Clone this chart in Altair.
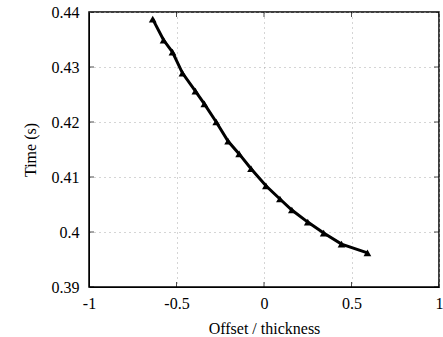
import altair as alt
import pandas as pd

offset = [-0.636, -0.574, -0.523, -0.466, -0.392, -0.341, -0.273, -0.205, -0.142,
          -0.074, 0.011, 0.091, 0.159, 0.250, 0.341, 0.443, 0.591]
time_s = [0.4387, 0.4349, 0.4327, 0.4289, 0.4256, 0.4233, 0.4200, 0.4165, 0.4142,
          0.4115, 0.4084, 0.4060, 0.4040, 0.4018, 0.3998, 0.3978, 0.3962]
x_ticks = [-1, -0.5, 0, 0.5, 1]
y_ticks = [0.39, 0.40, 0.41, 0.42, 0.43, 0.44]

df = pd.DataFrame({"x": offset, "y": time_s})
xs = alt.Scale(domain=[-1, 1], nice=False)
ys = alt.Scale(domain=[0.39, 0.44], nice=False, zero=False)
FONT = "Liberation Serif"

xaxis = alt.Axis(values=x_ticks, title="Offset / thickness", grid=True, gridDash=[1, 4],
                 gridColor="#aaa", gridWidth=1, tickSize=0, labelPadding=8,
                 labelFontSize=16, titleFontSize=16, titleFontWeight="normal",
                 labelFont=FONT, titleFont=FONT, labelColor="black", titleColor="black",
                 domainColor="black", titlePadding=9, labelFlush=False,
                 labelExpr="replace(format(datum.value, '~g'), '\u2212', '-')")
yaxis = alt.Axis(values=y_ticks, title="Time (s)", grid=True, gridDash=[1, 4],
                 gridColor="#aaa", gridWidth=1, tickSize=0, labelPadding=10,
                 labelFontSize=16, titleFontSize=16, titleFontWeight="normal",
                 labelFont=FONT, titleFont=FONT, labelColor="black", titleColor="black",
                 domainColor="black", titlePadding=13, labelFlush=False,
                 format="~g")

line = alt.Chart(df).mark_line(color="black", strokeWidth=3).encode(
    x=alt.X("x:Q", scale=xs, axis=xaxis),
    y=alt.Y("y:Q", scale=ys, axis=yaxis),
)
pts = alt.Chart(df).mark_point(shape="triangle-up", filled=True, color="black",
                               opacity=1, size=60).encode(
    x=alt.X("x:Q", scale=xs), y=alt.Y("y:Q", scale=ys))

ydf = pd.DataFrame({"t": y_ticks})
xdf = pd.DataFrame({"t": x_ticks})
yt_left = alt.Chart(ydf).mark_tick(clip=True, size=10, thickness=1, color="black",
                                   orient="horizontal").encode(
    y=alt.Y("t:Q", scale=ys), x=alt.datum(-1, scale=xs))
yt_right = alt.Chart(ydf).mark_tick(clip=True, size=10, thickness=1, color="black",
                                    orient="horizontal").encode(
    y=alt.Y("t:Q", scale=ys), x=alt.datum(1, scale=xs))
xt_bot = alt.Chart(xdf).mark_tick(clip=True, size=10, thickness=1, color="black",
                                  orient="vertical").encode(
    x=alt.X("t:Q", scale=xs), y=alt.datum(0.39, scale=ys))
xt_top = alt.Chart(xdf).mark_tick(clip=True, size=10, thickness=1, color="black",
                                  orient="vertical").encode(
    x=alt.X("t:Q", scale=xs), y=alt.datum(0.44, scale=ys))

chart = alt.layer(line, pts, yt_left, yt_right, xt_bot, xt_top).properties(
    width=350, height=275,
    autosize=alt.AutoSizeParams(type="none"),
    padding={"left": 89, "top": 12, "right": 4, "bottom": 50},
    background="white",
).configure_view(stroke="black", strokeWidth=1.5)

chart.save("out.html", embed_options={"renderer": "svg", "actions": False})
